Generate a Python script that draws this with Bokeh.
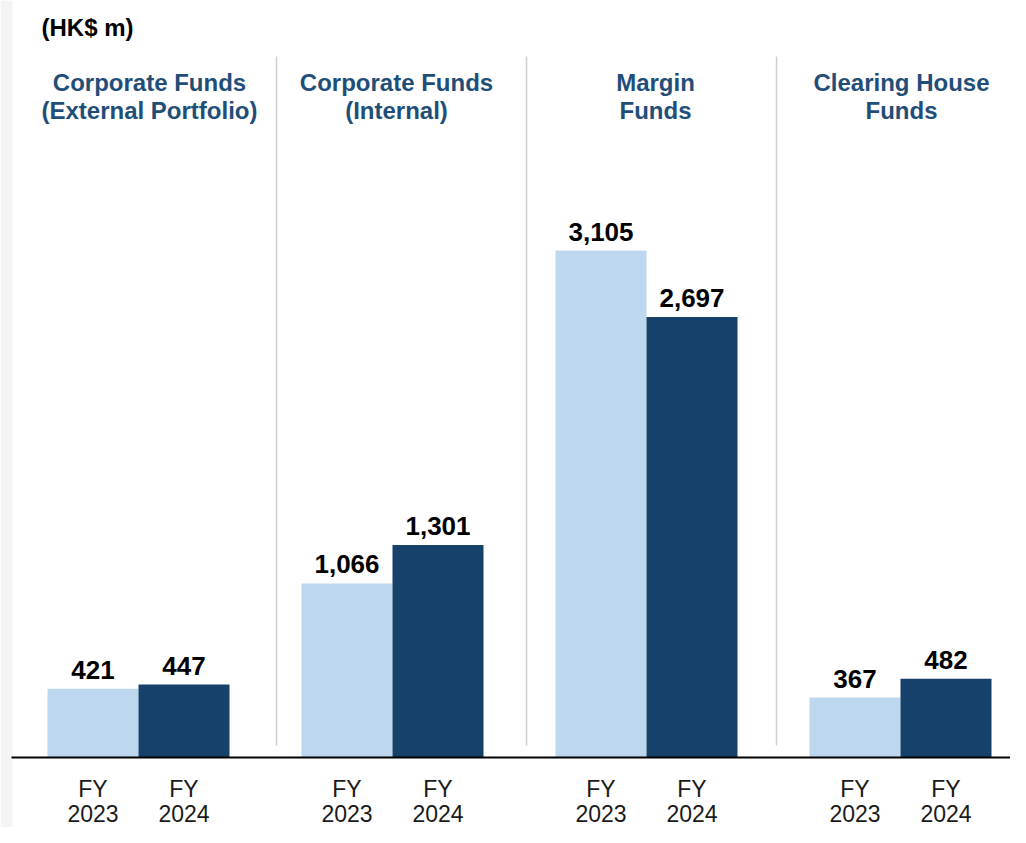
from bokeh.plotting import figure
from bokeh.models import Range1d, ColumnDataSource
from bokeh.core.properties import value
from bokeh.embed import file_html
from bokeh.resources import INLINE

# ---- data ----
groups = ["Corporate Funds\n(External Portfolio)", "Corporate Funds\n(Internal)",
          "Margin\nFunds", "Clearing House\nFunds"]
year_labels = ["FY\n2023", "FY\n2024"]
fy2023 = [421, 1066, 3105, 367]
fy2024 = [447, 1301, 2697, 482]
unit_label = "(HK$ m)"

# ---- layout / styling ----
W, H = 1010, 827
GROUP_PX = 254.0            # pixels between group centres
PX_PER_VAL = 507.0 / 3105   # pixels per HK$ m
BASE_PX = 757               # baseline, pixels from top
HEAD_SHIFT_PX = [11, 4, 9, 1]   # header offset from group centre
SEP_PX = [276, 526, 776]        # separator positions
x0 = -138.0 / GROUP_PX
x1 = x0 + W / GROUP_PX
y0 = -(H - BASE_PX) / PX_PER_VAL
y1 = y0 + H / PX_PER_VAL

def dy(px_from_top):
    return (BASE_PX - px_from_top) / PX_PER_VAL

def dx(px_from_left):
    return x0 + px_from_left / GROUP_PX

LIGHT = "#BDD7EE"
DARK = "#16416A"
HEAD = "#1F4E79"
FONT = value("Liberation Sans")

p = figure(width=W, height=H, output_backend="svg", toolbar_location=None,
           x_range=Range1d(x0, x1), y_range=Range1d(y0, y1), min_border=0,
           background_fill_color="white", border_fill_color="white")
p.xaxis.visible = False
p.yaxis.visible = False
p.grid.visible = False
p.outline_line_color = None

# light strip on the left edge
p.quad(left=[x0], right=[dx(12)], bottom=[y0], top=[y1],
       fill_color="#F4F4F4", line_color=None)

bw = 91.0 / GROUP_PX
idx = list(range(len(groups)))
xa = [i - bw / 2 for i in idx]
xb = [i + bw / 2 for i in idx]

p.vbar(x=xa, top=fy2023, width=bw, fill_color=LIGHT, line_color=None)
p.vbar(x=xb, top=fy2024, width=bw, fill_color=DARK, line_color=None)

# value labels
src = ColumnDataSource(dict(x=xa + xb, y=fy2023 + fy2024,
                            t=[f"{v:,}" for v in fy2023 + fy2024]))
p.text(x="x", y="y", text="t", source=src, text_align="center",
       text_baseline="bottom", y_offset=-10, text_font=FONT,
       text_font_size="26px", text_font_style="bold", text_color="black")

# separators between groups
sep_x = [dx(s) for s in SEP_PX]
p.segment(x0=sep_x, y0=[dy(745)] * len(sep_x), x1=sep_x, y1=[dy(56)] * len(sep_x),
          line_color="#CFCFCF", line_width=1.5)

# baseline
p.segment(x0=[dx(11)], y0=[0], x1=[x1], y1=[0], line_color="black", line_width=2.2)

# group headers
hx, hy, ht = [], [], []
for i, g in enumerate(groups):
    for k, line in enumerate(g.split("\n")):
        hx.append(i + HEAD_SHIFT_PX[i] / GROUP_PX)
        hy.append(dy(82 + 28 * k))
        ht.append(line)
p.text(x=hx, y=hy, text=ht, text_align="center", text_baseline="middle",
       text_font=FONT, text_font_size="24px", text_font_style="bold", text_color=HEAD)

# category (year) labels under the axis
tx, ty, tt = [], [], []
for i in idx:
    for xpos, lab in zip((xa[i], xb[i]), year_labels):
        for k, line in enumerate(lab.split("\n")):
            tx.append(xpos)
            ty.append(dy(788 + 25 * k))
            tt.append(line)
p.text(x=tx, y=ty, text=tt, text_align="center", text_baseline="middle",
       text_font=FONT, text_font_size="23px", text_color="#1A1A1A")

# unit label
p.text(x=[dx(41)], y=[dy(27)], text=[unit_label], text_align="left",
       text_baseline="middle", text_font=FONT, text_font_size="24px",
       text_font_style="bold", text_color="black")

open("out.html", "w").write(file_html(p, INLINE))
